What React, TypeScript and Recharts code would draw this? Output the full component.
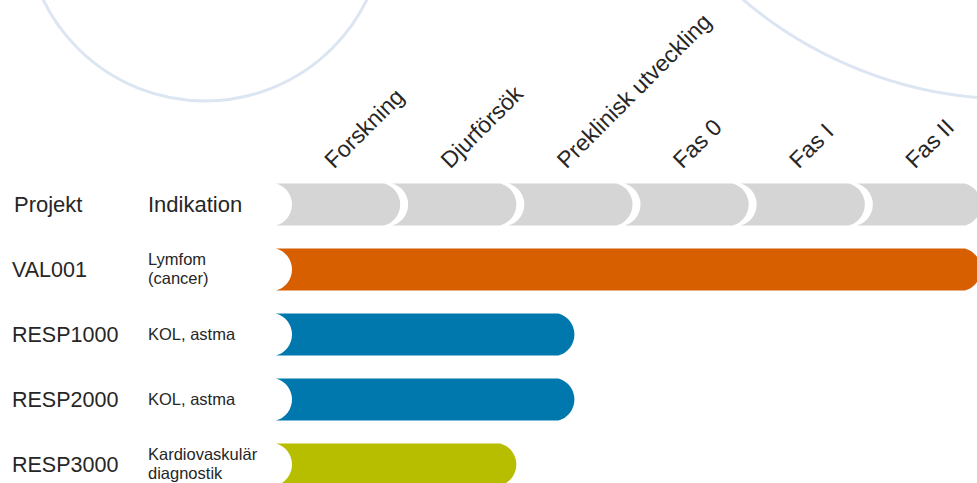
import { Bar, BarChart, Cell, XAxis, YAxis } from "recharts";

const phases = ["Forskning", "Djurförsök", "Preklinisk utveckling", "Fas 0", "Fas I", "Fas II"];
const projects = ["VAL001", "RESP1000", "RESP2000", "RESP3000"];
const indications = ["Lymfom\n(cancer)", "KOL, astma", "KOL, astma", "Kardiovaskulär\ndiagnostik"];
const progress = [6, 2.5, 2.5, 2];
const projectColors = ["#d85f00", "#0078ae", "#0078ae", "#b7be00"];

const headerLabel = "Projekt";
const headerIndication = "Indikation";
const phaseTicks = phases.map((_, i) => i + 0.5);

const FONT = '"Liberation Sans", Arial, Helvetica, sans-serif';
const TEXT = "#262626";
const GRAY = "#d5d5d5";

// header row holds one unit per phase, project rows hold their progress
const rows = [
  Object.fromEntries([["key", headerLabel], ...phases.map((_, i) => [`p${i}`, 1]), ["progress", 0]]),
  ...projects.map((p, r) =>
    Object.fromEntries([["key", p], ...phases.map((_, i) => [`p${i}`, 0]), ["progress", progress[r]]])
  ),
];

const BITE_SHIFT = 8;
const BITE_DEPTH = 16;
const END_DEPTH = 16;

function Segment(props: any) {
  const { x, y, width, height, fill } = props;
  if (!width || width <= 0) return <g />;
  const h2 = height / 2;
  const left = x - BITE_SHIFT;
  const right = x + width;
  const endR = (END_DEPTH * END_DEPTH + h2 * h2) / (2 * END_DEPTH);
  const biteR = (BITE_DEPTH * BITE_DEPTH + h2 * h2) / (2 * BITE_DEPTH);
  const top = y;
  const bottom = y + height;
  const d = [
    `M${left},${top}`,
    `L${right - END_DEPTH},${top}`,
    `A${endR},${endR} 0 0 1 ${right - END_DEPTH},${bottom}`,
    `L${left},${bottom}`,
    `A${biteR},${biteR} 0 0 0 ${left},${top}`,
    "Z",
  ].join(" ");
  return <path d={d} fill={fill} />;
}

function PhaseTick(props: any) {
  const { x, y, payload } = props;
  const label = phases[Math.floor(payload.value)];
  const tx = x - 8;
  const ty = y - 2;
  return (
    <text
      x={tx}
      y={ty}
      transform={`rotate(-45, ${tx}, ${ty})`}
      textAnchor="start"
      fontSize={23}
      fontFamily={FONT}
      fill={TEXT}
    >
      {label}
    </text>
  );
}

function RowTick(props: any) {
  const { y, payload } = props;
  const key = payload.value as string;
  const idx = projects.indexOf(key);
  if (idx < 0) {
    return (
      <g fontFamily={FONT} fill={TEXT} fontSize={22}>
        <text x={14} y={y + 8}>{key}</text>
        <text x={148} y={y + 8}>{headerIndication}</text>
      </g>
    );
  }
  const lines = indications[idx].split("\n");
  return (
    <g fontFamily={FONT} fill={TEXT}>
      <text x={12} y={y + 7.5} fontSize={21.5}>{key}</text>
      {lines.map((ln, i) => (
        <text key={i} x={148} y={y + 5.5 + (i - (lines.length - 1) / 2) * 19.5} fontSize={16.5}>
          {ln}
        </text>
      ))}
    </g>
  );
}

export default function App() {
  return (
    <div style={{ position: "absolute", left: 0, top: 0, width: 977, height: 483, overflow: "hidden", background: "#fff" }}>
      <svg width={977} height={483} style={{ position: "absolute", left: 0, top: 0 }}>
        <circle cx={205} cy={-79} r={180} fill="none" stroke="#dce5f2" strokeWidth={3} />
        <circle cx={1013} cy={-317} r={416} fill="none" stroke="#dce5f2" strokeWidth={3} />
      </svg>
      <div style={{ position: "absolute", left: 0, top: 0 }}>
        <BarChart
          width={981}
          height={497}
          data={rows}
          layout="vertical"
          barSize={42}
          margin={{ top: 161.5, right: 0, bottom: 0.5, left: 0 }}
        >
          <XAxis
            type="number"
            domain={[0, 6]}
            ticks={phaseTicks}
            orientation="top"
            axisLine={false}
            tickLine={false}
            tickSize={0}
            tickMargin={0}
            height={10}
            interval={0}
            tick={<PhaseTick />}
          />
          <YAxis
            type="category"
            dataKey="key"
            width={284}
            axisLine={false}
            tickLine={false}
            interval={0}
            tick={<RowTick />}
          />
          {phases.map((_, i) => (
            <Bar
              key={i}
              dataKey={`p${i}`}
              stackId="s"
              fill={GRAY}
              shape={<Segment />}
              isAnimationActive={false}
            />
          ))}
          <Bar dataKey="progress" stackId="s" shape={<Segment />} isAnimationActive={false}>
            {rows.map((r, i) => (
              <Cell key={i} fill={i === 0 ? GRAY : projectColors[i - 1]} />
            ))}
          </Bar>
        </BarChart>
      </div>
    </div>
  );
}
